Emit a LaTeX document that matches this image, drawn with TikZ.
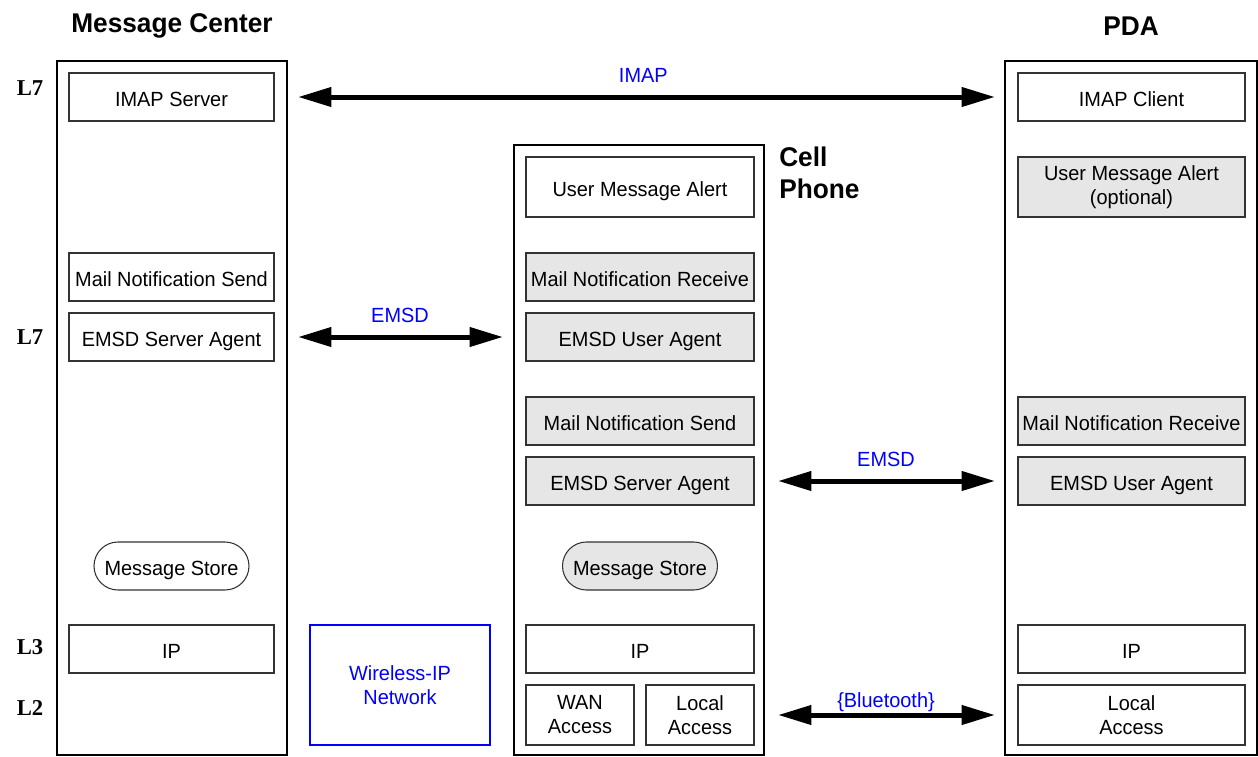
\documentclass[tikz,border=0pt]{standalone}
\usepackage{fontspec}
\setmainfont{Liberation Sans}[FakeStretch=0.97]
\newfontfamily\lfont{Liberation Serif}
\usetikzlibrary{arrows.meta}
\definecolor{lgray}{HTML}{E6E6E6}
\definecolor{lblue}{HTML}{0000FF}
\definecolor{dgray}{HTML}{333333}
\begin{document}
\begin{tikzpicture}[x=0.75pt,y=-0.75pt,
  font=\fontsize{15.4}{18}\selectfont,
  outer/.style={draw, line width=1.5pt, inner sep=0pt, outer sep=0pt},
  sz/.style 2 args={minimum width=#1*0.75pt, minimum height=#2*0.75pt},
  box/.style={draw=dgray, line width=0.8pt, fill=white, inner sep=0pt, outer sep=0pt, align=center},
  one/.style={text height=13.5pt, text depth=0pt},
  gbox/.style={box, fill=lgray},
  pill/.style={rounded corners=18pt},
  arr/.style={{Triangle[length=25pt,width=14pt]}-{Triangle[length=25pt,width=14pt]}, line width=3.75pt, shorten <=18pt, shorten >=17.25pt},
  lbl/.style={text=lblue, one, inner sep=0pt},
  title/.style={font=\fontsize{20.3}{24}\selectfont\bfseries, inner sep=0pt},
  layer/.style={font=\lfont\fontsize{17}{20}\selectfont\bfseries, inner sep=0pt}
]
\useasboundingbox (0,0) rectangle (1258,757);

% titles
\node[title, anchor=base] (tmc) at (172,32) {Message Center};
\node[title, anchor=base] (tpda) at (1131,35) {PDA};
\node[title, anchor=north west, align=left] (tcp) at (779,147) {Cell\\Phone};

% layer labels
\node[layer] (l7a) at (30,88) {L7};
\node[layer] (l7b) at (30,337) {L7};
\node[layer] (l3) at (30,647) {L3};
\node[layer] (l2) at (30,708) {L2};

% outer boxes
\node[outer, sz={230}{694}] (mc) at (172,408) {};
\node[outer, sz={250}{610}] (cp) at (639,450) {};
\node[outer, sz={252}{694}] (pda) at (1131,408) {};

% Message Center
\node[box, one, sz={205}{48}] (imaps) at (171.5,97) {IMAP Server};
\node[box, one, sz={205}{48}] (mns1) at (171.5,277) {Mail Notification Send};
\node[box, one, sz={205}{48}] (esa1) at (171.5,337) {EMSD Server Agent};
\node[box, one, pill, sz={155}{48}] (ms1) at (171.5,566) {Message Store};
\node[box, one, sz={205}{48}] (ip1) at (171.5,649) {IP};

% Wireless network
\node[draw=lblue, line width=0.8pt, text=lblue, align=center, inner sep=0pt, outer sep=0pt, sz={180}{120}] (wn) at (400,685) {Wireless-IP\\Network};

% Cell Phone
\node[box, one, sz={228}{60}] (uma) at (640,187) {User Message Alert};
\node[gbox, one, sz={228}{48}] (mnr) at (640,277) {Mail Notification Receive};
\node[gbox, one, sz={228}{48}] (eua) at (640,337) {EMSD User Agent};
\node[gbox, one, sz={228}{48}] (mns2) at (640,421) {Mail Notification Send};
\node[gbox, one, sz={228}{48}] (esa2) at (640,481) {EMSD Server Agent};
\node[gbox, one, pill, sz={155}{48}] (ms2) at (640,566) {Message Store};
\node[box, one, sz={228}{48}] (ip2) at (640,649) {IP};
\node[box, sz={108}{60}] (wan) at (580,715) {WAN\\Access};
\node[box, sz={108}{60}] (loc) at (700,715) {Local\\Access};

% PDA
\node[box, one, sz={227}{48}] (imapc) at (1131.5,97) {IMAP Client};
\node[gbox, sz={227}{60}] (uma2) at (1131.5,187) {User Message Alert\\(optional)};
\node[gbox, one, sz={227}{48}] (mnr2) at (1131.5,421) {Mail Notification Receive};
\node[gbox, one, sz={227}{48}] (eua2) at (1131.5,481) {EMSD User Agent};
\node[box, one, sz={227}{48}] (ip3) at (1131.5,649) {IP};
\node[box, sz={227}{60}] (loc2) at (1131.5,715) {Local\\Access};

% connectors
\draw[arr] (imaps.east) -- (imapc.west) node[lbl, midway, yshift=17.6pt, xshift=-2pt] {IMAP};
\draw[arr] (esa1.east) -- (eua.west) node[lbl, midway, yshift=17.6pt] {EMSD};
\draw[arr] (esa2.east) -- (eua2.west) node[lbl, midway, yshift=17.6pt] {EMSD};
\draw[arr] (loc.east) -- (loc2.west) node[lbl, midway, yshift=12.75pt] {\{Bluetooth\}};
\end{tikzpicture}
\end{document}
